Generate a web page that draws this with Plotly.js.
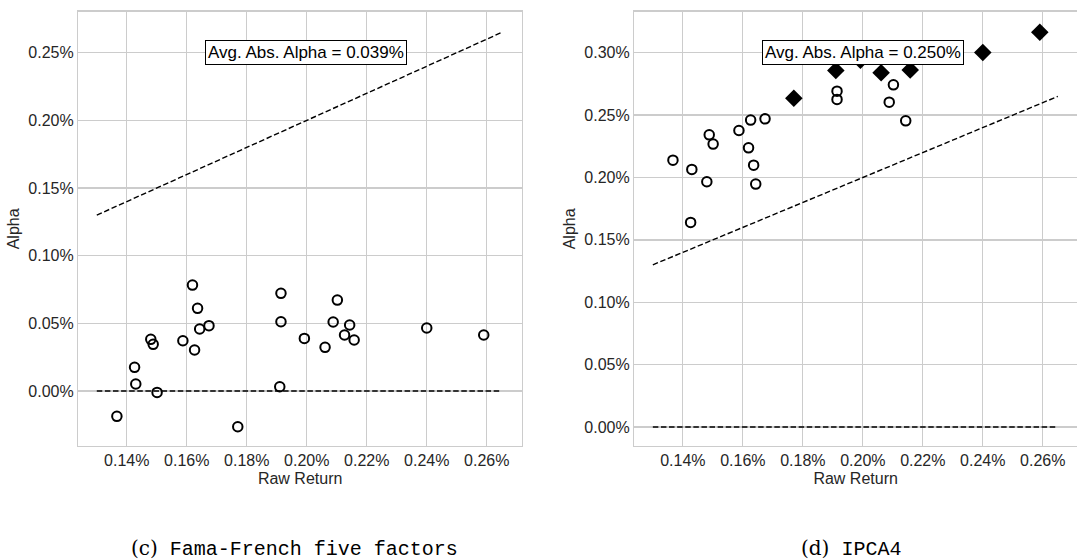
<!DOCTYPE html>
<html>
<head>
<meta charset="utf-8">
<script src="https://cdn.plot.ly/plotly-3.0.1.min.js"></script>
<style>
html,body{margin:0;padding:0;background:#fff;overflow:hidden;}
#chart{width:1077px;height:560px;}
</style>
</head>
<body>
<div id="chart"></div>
<script>
// Raw returns (%) of the 25 portfolios
const rawReturn = [0.1367,0.1426,0.1430,0.1480,0.1488,0.1501,0.1587,0.1619,0.1626,0.1636,0.1643,0.1674,0.1770,0.1914,0.1914,0.1910,0.1992,0.2061,0.2088,0.2102,0.2126,0.2143,0.2158,0.2400,0.2590];
// Alpha (%) under Fama-French five factors
const alphaFF5 = [-0.0187,0.0175,0.0052,0.0382,0.0345,-0.0010,0.0372,0.0783,0.0303,0.0611,0.0458,0.0483,-0.0264,0.0722,0.0512,0.0032,0.0389,0.0323,0.0510,0.0672,0.0414,0.0488,0.0377,0.0466,0.0414];
// Alpha (%) under IPCA4
const alphaIPCA4 = [0.2139,0.1640,0.2065,0.1966,0.2342,0.2268,0.2377,0.2238,0.2460,0.2099,0.1947,0.2470,0.2636,0.2692,0.2626,0.2858,0.2940,0.2839,0.2604,0.2743,0.3000,0.2454,0.2861,0.3002,0.3165];
// 1 = drawn as filled diamond in the IPCA4 panel
const ipcaFlag = [0,0,0,0,0,0,0,0,0,0,0,0,1,0,0,1,1,1,0,0,1,0,1,1,1];
// Reference line end points (Raw Return)
const refX = [0.13, 0.265];
const zeroY = [0, 0];
const annotationText = ["Avg. Abs. Alpha = 0.039%", "Avg. Abs. Alpha = 0.250%"];
const captions = ["(c)", "Fama-French five factors", "(d)", "IPCA4"];

const dash = {color:'#000', width:1.4, dash:'5.5px,2.6px'};
const circleMarker = {symbol:'circle-open', size:9.5, color:'#000', line:{color:'#000', width:2}};

const ipcaCircX = rawReturn.filter((v,i)=>!ipcaFlag[i]);
const ipcaCircY = alphaIPCA4.filter((v,i)=>!ipcaFlag[i]);
const ipcaDiaX = rawReturn.filter((v,i)=>ipcaFlag[i]);
const ipcaDiaY = alphaIPCA4.filter((v,i)=>ipcaFlag[i]);

const traces = [
  {x:refX, y:refX, mode:'lines', line:dash, xaxis:'x', yaxis:'y', hoverinfo:'skip'},
  {x:refX, y:zeroY, mode:'lines', line:dash, xaxis:'x', yaxis:'y', hoverinfo:'skip'},
  {x:rawReturn, y:alphaFF5, mode:'markers', marker:circleMarker, xaxis:'x', yaxis:'y'},
  {x:refX, y:refX, mode:'lines', line:dash, xaxis:'x2', yaxis:'y2', hoverinfo:'skip'},
  {x:refX, y:zeroY, mode:'lines', line:dash, xaxis:'x2', yaxis:'y2', hoverinfo:'skip'},
  {x:ipcaCircX, y:ipcaCircY, mode:'markers', marker:circleMarker, xaxis:'x2', yaxis:'y2'},
  {x:ipcaDiaX, y:ipcaDiaY, mode:'markers', marker:{symbol:'diamond', size:13.5, color:'#000', line:{width:0}}, xaxis:'x2', yaxis:'y2'}
];

const grid = '#cccccc';
function xax(domain, range, anchor){
  return {domain:domain, range:range, anchor:anchor, tick0:0, dtick:0.02, tickformat:'.2f', ticksuffix:'%',
    showgrid:true, gridcolor:grid, gridwidth:1.3, zeroline:false, showline:true, linecolor:grid, linewidth:1.3, mirror:true,
    ticks:'', tickfont:{size:16, color:'#262626'},
    title:{text:'Raw Return', font:{size:16, color:'#262626'}, standoff:4}};
}
function yax(domain, range, anchor, mirror){
  return {domain:domain, range:range, anchor:anchor, tick0:0, dtick:0.05, tickformat:'.2f', ticksuffix:'%',
    showgrid:true, gridcolor:grid, gridwidth:1.3, zeroline:false, showline:true, linecolor:grid, linewidth:1.3, mirror:mirror,
    ticks:'', tickfont:{size:16, color:'#262626'},
    title:{text:'Alpha', font:{size:16, color:'#262626'}, standoff:4}};
}
const yDom = [0.2036, 0.9791];
const layout = {
  width:1077, height:560, margin:{l:0, r:0, t:0, b:0},
  paper_bgcolor:'#fff', plot_bgcolor:'#fff', showlegend:false,
  font:{family:'"Liberation Sans", Arial, sans-serif', color:'#262626'},
  xaxis:xax([0.0726,0.4848],[0.1238,0.2718],'y'),
  yaxis:yax(yDom,[-0.0406,0.2803],'x',true),
  xaxis2:xax([0.5889,1],[0.1238,0.2714],'y2'),
  yaxis2:yax(yDom,[-0.0152,0.3329],'x2',false),
  annotations:[
    {xref:'x domain', yref:'y domain', x:0.514, y:0.906, text:annotationText[0], showarrow:false,
     font:{size:17, color:'#000'}, bgcolor:'#fff', bordercolor:'#000', borderwidth:1, borderpad:2, xanchor:'center', yanchor:'middle'},
    {xref:'x2 domain', yref:'y2 domain', x:0.517, y:0.906, text:annotationText[1], showarrow:false,
     font:{size:17, color:'#000'}, bgcolor:'#fff', bordercolor:'#000', borderwidth:1, borderpad:2, xanchor:'center', yanchor:'middle'},
    {xref:'paper', yref:'paper', x:0.273, y:0.021, xanchor:'center', yanchor:'middle', showarrow:false,
     text:'<span style="font-family:\'DejaVu Serif\',serif">'+captions[0]+'</span> '+captions[1],
     font:{family:'"Liberation Mono","DejaVu Sans Mono",monospace', size:20, color:'#000'}},
    {xref:'paper', yref:'paper', x:0.790, y:0.021, xanchor:'center', yanchor:'middle', showarrow:false,
     text:'<span style="font-family:\'DejaVu Serif\',serif">'+captions[2]+'</span> '+captions[3],
     font:{family:'"Liberation Mono","DejaVu Sans Mono",monospace', size:20, color:'#000'}}
  ]
};
Plotly.newPlot('chart', traces, layout, {staticPlot:true, displayModeBar:false});
</script>
</body>
</html>
